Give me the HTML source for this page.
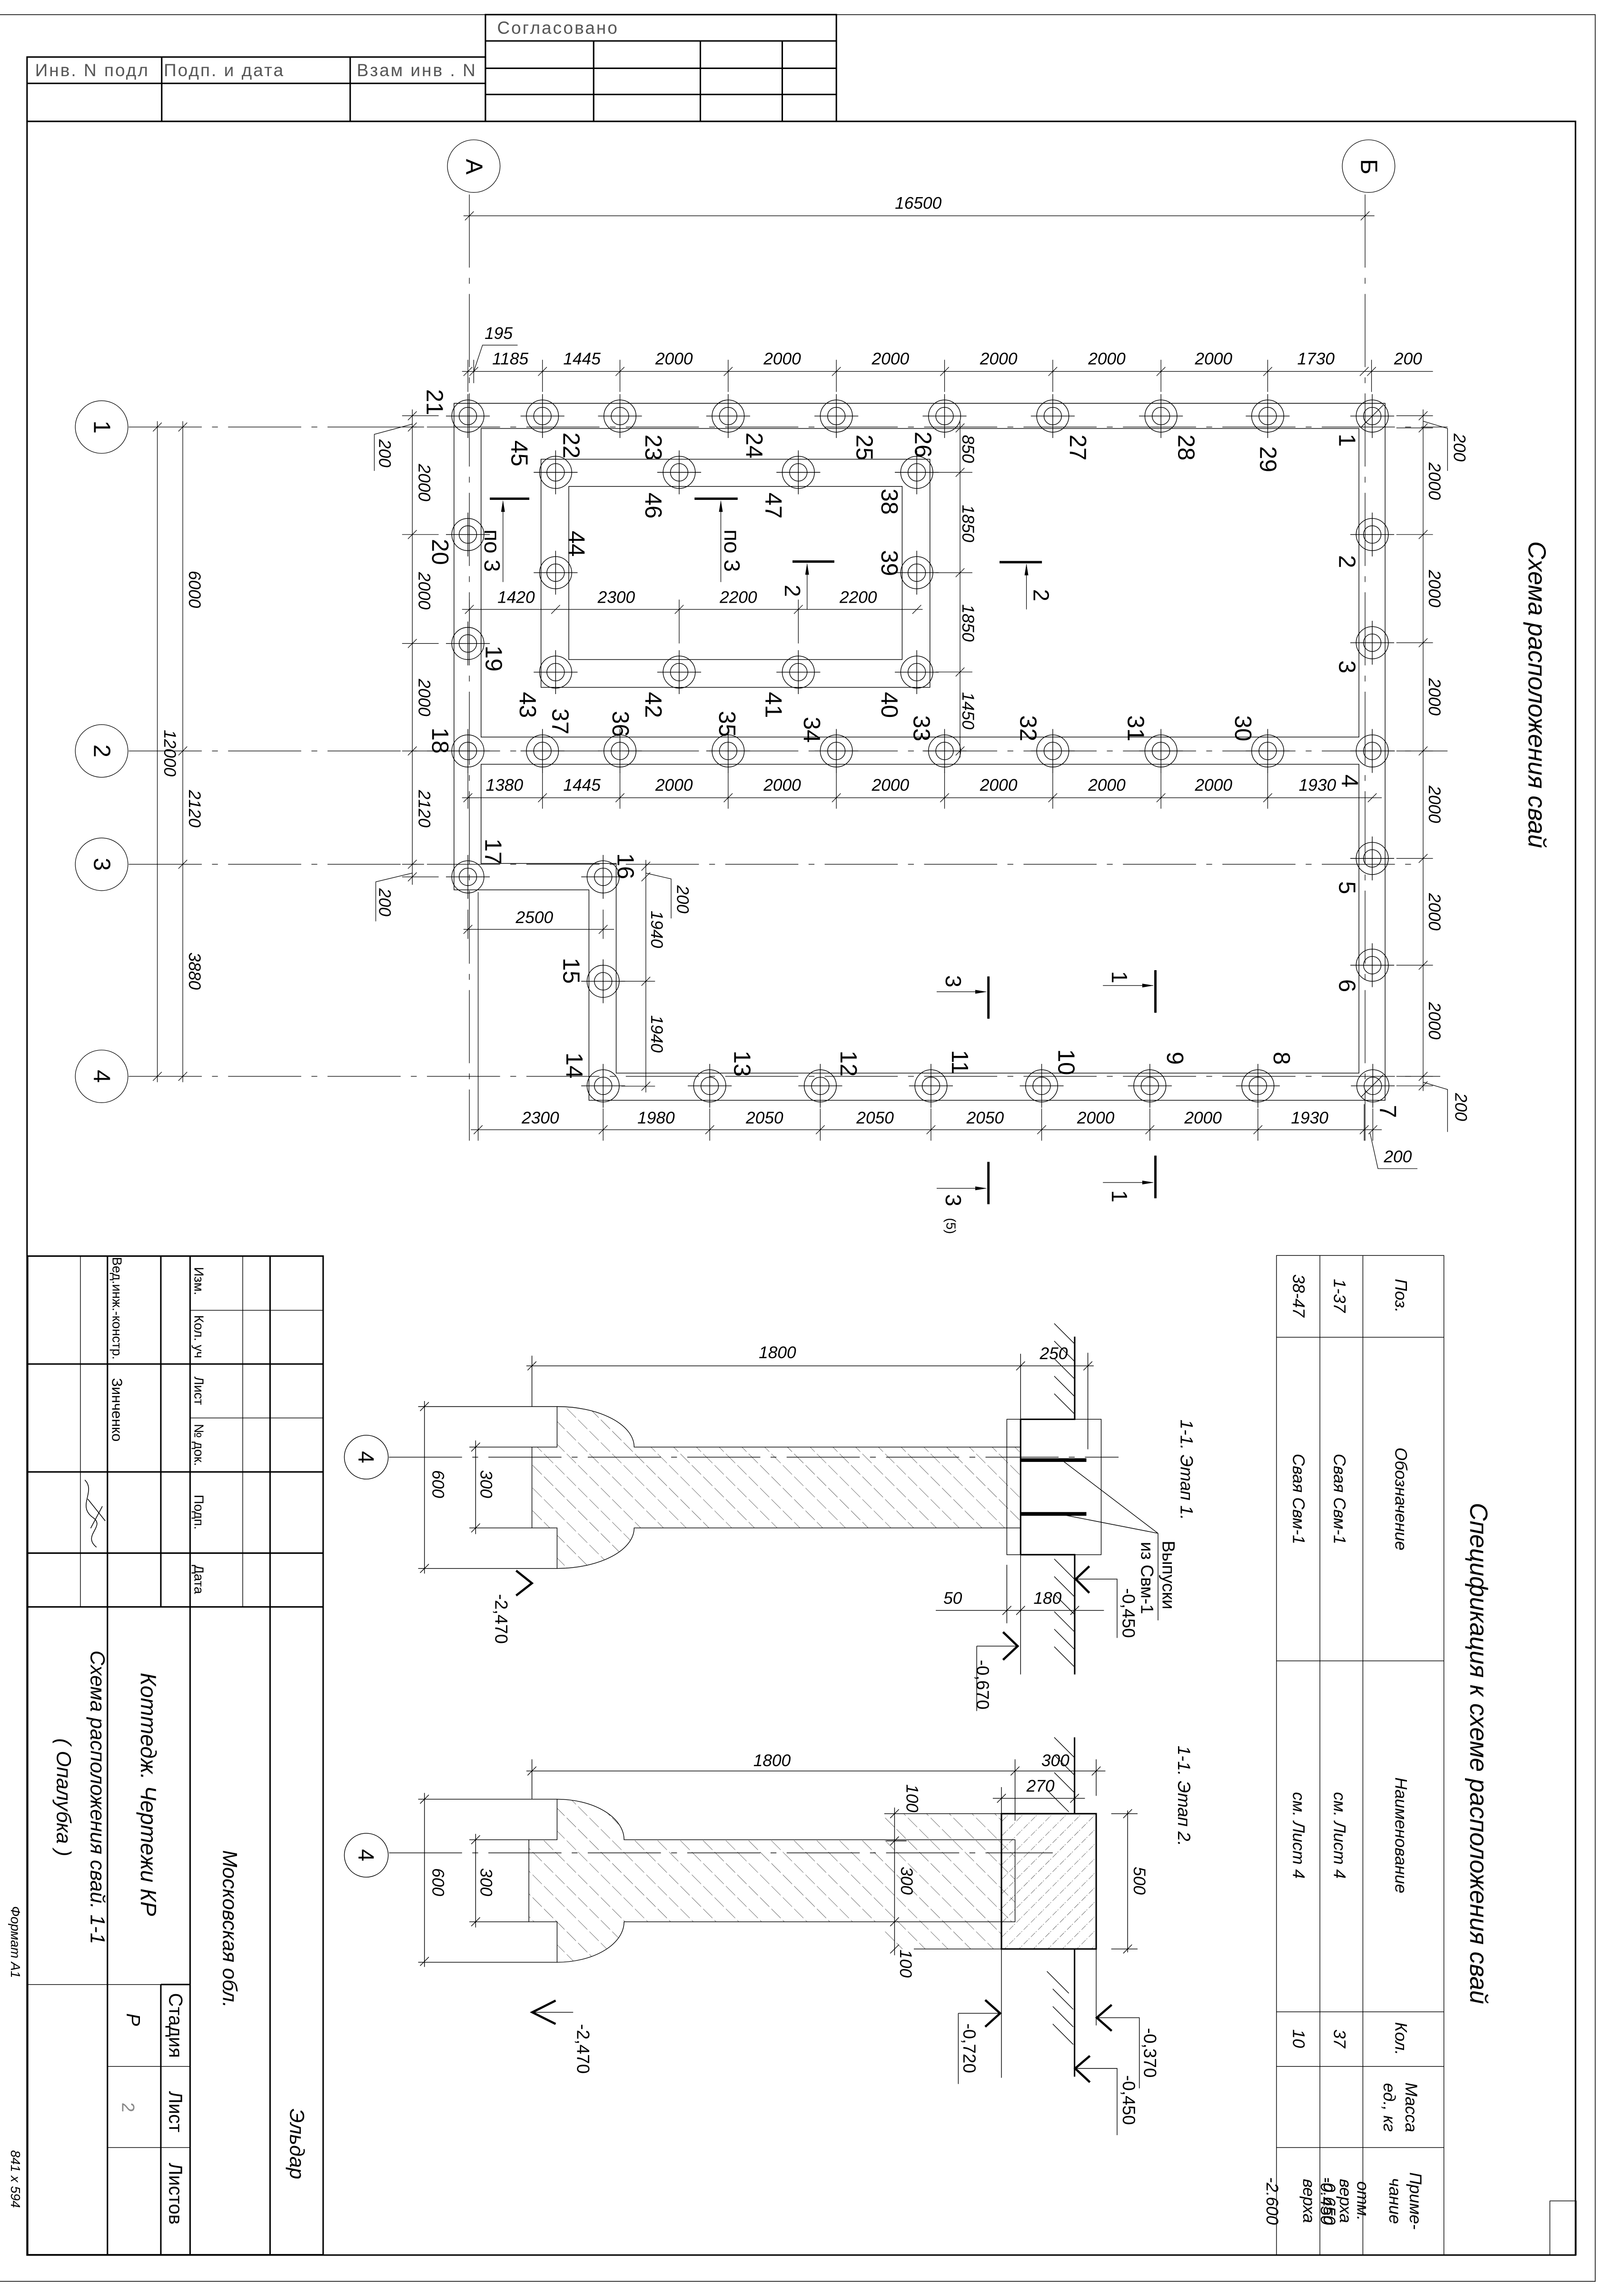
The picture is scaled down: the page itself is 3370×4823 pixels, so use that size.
<!DOCTYPE html>
<html><head><meta charset="utf-8"><style>
html,body{margin:0;padding:0;background:#fff}
svg{display:block}
text{font-family:"Liberation Sans",sans-serif;fill:#000}
.p{font-size:16px;text-anchor:middle;dominant-baseline:central}
.d{font-size:11.5px;font-style:italic;text-anchor:middle;dominant-baseline:central}
.e{font-size:12px;text-anchor:middle;dominant-baseline:central}
.s{font-size:11.5px;font-style:italic;text-anchor:middle;dominant-baseline:central}
.t{font-size:9px;text-anchor:middle;dominant-baseline:central}
.st{font-size:12px;fill:#555;letter-spacing:1px;dominant-baseline:central}
</style></head><body>
<svg xmlns="http://www.w3.org/2000/svg" width="3370" height="4823" viewBox="0 0 1097 1570" preserveAspectRatio="none">
<defs>
<pattern id="h1" patternUnits="userSpaceOnUse" width="11" height="11" patternTransform="rotate(-45)"><line x1="0" y1="0" x2="0" y2="11" stroke="#000" stroke-width="0.35" stroke-dasharray="7 2"/></pattern>
<pattern id="h2" patternUnits="userSpaceOnUse" width="7" height="7" patternTransform="rotate(45)"><line x1="0" y1="0" x2="0" y2="7" stroke="#000" stroke-width="0.35" stroke-dasharray="4 1.5 0.8 1.5"/></pattern>
<g id="pile" fill="none" stroke="#000" stroke-width="0.45"><circle r="11"/><circle r="6"/><line x1="-15" y1="0" x2="15" y2="0"/><line x1="0" y1="-15" x2="0" y2="15"/></g>
</defs>

<!-- frames -->
<g fill="none" stroke="#000">
<path d="M0,10 H1091 V1560 H0" stroke-width="0.5"/>
<rect x="18.5" y="83" width="1059" height="1459" stroke-width="1"/>
<!-- top stamp -->
<rect x="332" y="10" width="240" height="73" stroke-width="1"/>
<line x1="332" y1="28" x2="572" y2="28" stroke-width="1"/>
<line x1="332" y1="46.7" x2="572" y2="46.7" stroke-width="1"/>
<line x1="332" y1="64.6" x2="572" y2="64.6" stroke-width="1"/>
<line x1="406" y1="28" x2="406" y2="83" stroke-width="1"/>
<line x1="479" y1="28" x2="479" y2="83" stroke-width="1"/>
<line x1="535" y1="28" x2="535" y2="83" stroke-width="1"/>
<rect x="18.5" y="39" width="313.5" height="44" stroke-width="1"/>
<line x1="18.5" y1="57" x2="332" y2="57" stroke-width="1"/>
<line x1="110.6" y1="39" x2="110.6" y2="83" stroke-width="1"/>
<line x1="239.5" y1="39" x2="239.5" y2="83" stroke-width="1"/>
</g>
<text class="st" x="340" y="19">Согласовано</text>
<text class="st" x="24" y="48">Инв. N подл</text>
<text class="st" x="112" y="48">Подп. и дата</text>
<text class="st" x="244" y="48">Взам инв . N</text>

<!-- axes -->
<g fill="none" stroke="#000" stroke-width="0.4">
<circle cx="324" cy="113.6" r="18"/><circle cx="936" cy="113.6" r="18"/>
<circle cx="69.5" cy="292" r="18"/><circle cx="69.5" cy="513.5" r="18"/><circle cx="69.5" cy="591" r="18"/><circle cx="69.5" cy="736" r="18"/>
<g stroke-dasharray="50 7 4 7">
<line x1="321" y1="133" x2="321" y2="780"/><line x1="933.6" y1="133" x2="933.6" y2="780"/>
<line x1="88" y1="292" x2="990" y2="292"/><line x1="88" y1="513.5" x2="990" y2="513.5"/>
<line x1="88" y1="591" x2="965" y2="591"/><line x1="88" y1="736" x2="985" y2="736"/>
</g>
</g>
<text x="324" y="114" class="p" transform="rotate(90 324 114)">А</text>
<text x="936" y="114" class="p" transform="rotate(90 936 114)">Б</text>
<text x="69.5" y="292" class="p" transform="rotate(90 69.5 292)">1</text>
<text x="69.5" y="513.5" class="p" transform="rotate(90 69.5 513.5)">2</text>
<text x="69.5" y="591" class="p" transform="rotate(90 69.5 591)">3</text>
<text x="69.5" y="736" class="p" transform="rotate(90 69.5 736)">4</text>

<!-- grillage -->
<g fill="none" stroke="#000" stroke-width="0.45">
<path d="M310.5,275.8 H947.3 V752.4 H402.8 V608.5 H310.5 Z"/>
<path d="M329,293 H929.4 V504 H329 Z"/>
<path d="M329,522.6 H929.4 V733.8 H421.4 V590.4 H329 Z"/>
<rect x="370" y="314" width="266" height="156"/>
<rect x="389" y="332.6" width="228" height="118.4"/>
</g>

<!-- piles -->
<g>
<use href="#pile" x="320" y="284.5"/><use href="#pile" x="371" y="284.5"/><use href="#pile" x="424" y="284.5"/><use href="#pile" x="498" y="284.5"/><use href="#pile" x="572" y="284.5"/><use href="#pile" x="646" y="284.5"/><use href="#pile" x="720" y="284.5"/><use href="#pile" x="794" y="284.5"/><use href="#pile" x="867" y="284.5"/><use href="#pile" x="938.5" y="284.5"/>
<use href="#pile" x="380" y="323"/><use href="#pile" x="464.5" y="323"/><use href="#pile" x="546" y="323"/><use href="#pile" x="627" y="323"/>
<use href="#pile" x="380" y="391.6"/><use href="#pile" x="627" y="391.6"/>
<use href="#pile" x="380" y="459.6"/><use href="#pile" x="464.5" y="459.6"/><use href="#pile" x="546" y="459.6"/><use href="#pile" x="627" y="459.6"/>
<use href="#pile" x="320" y="365.5"/><use href="#pile" x="320" y="440"/>
<use href="#pile" x="938.5" y="365.5"/><use href="#pile" x="938.5" y="439.5"/><use href="#pile" x="938.5" y="587"/><use href="#pile" x="938.5" y="660"/>
<use href="#pile" x="320" y="513.5"/><use href="#pile" x="371" y="513.5"/><use href="#pile" x="424" y="513.5"/><use href="#pile" x="498" y="513.5"/><use href="#pile" x="572" y="513.5"/><use href="#pile" x="646" y="513.5"/><use href="#pile" x="720" y="513.5"/><use href="#pile" x="794" y="513.5"/><use href="#pile" x="867" y="513.5"/><use href="#pile" x="938.5" y="513.5"/>
<use href="#pile" x="320" y="599.6"/><use href="#pile" x="412.5" y="599.6"/><use href="#pile" x="412.5" y="671"/>
<use href="#pile" x="412.5" y="742.5"/><use href="#pile" x="485.4" y="742.5"/><use href="#pile" x="561" y="742.5"/><use href="#pile" x="636.7" y="742.5"/><use href="#pile" x="712.4" y="742.5"/><use href="#pile" x="786.4" y="742.5"/><use href="#pile" x="860.3" y="742.5"/><use href="#pile" x="938.9" y="742.5"/>
<line x1="931" y1="292" x2="946" y2="277" stroke="#000" stroke-width="0.45"/>
<line x1="931" y1="750" x2="946" y2="735" stroke="#000" stroke-width="0.45"/>
</g>

<!-- pile labels -->
<g>
<text class="p" transform="translate(297 275) rotate(90)">21</text>
<text class="p" transform="translate(390.5 304.6) rotate(90)">22</text>
<text class="p" transform="translate(355 310) rotate(90)">45</text>
<text class="p" transform="translate(446.6 306) rotate(90)">23</text>
<text class="p" transform="translate(515.7 304.6) rotate(90)">24</text>
<text class="p" transform="translate(591 306) rotate(90)">25</text>
<text class="p" transform="translate(631 304) rotate(90)">26</text>
<text class="p" transform="translate(737 306) rotate(90)">27</text>
<text class="p" transform="translate(811 306) rotate(90)">28</text>
<text class="p" transform="translate(867 314) rotate(90)">29</text>
<text class="p" transform="translate(921 301) rotate(90)">1</text>
<text class="p" transform="translate(446.6 345.7) rotate(90)">46</text>
<text class="p" transform="translate(528.8 345.7) rotate(90)">47</text>
<text class="p" transform="translate(608 343) rotate(90)">38</text>
<text class="p" transform="translate(300.8 377.4) rotate(90)">20</text>
<text class="p" transform="translate(394 371.8) rotate(90)">44</text>
<text class="p" transform="translate(608 385) rotate(90)">39</text>
<text class="p" transform="translate(337.4 450.3) rotate(90)">19</text>
<text class="p" transform="translate(921 384) rotate(90)">2</text>
<text class="p" transform="translate(921 456) rotate(90)">3</text>
<text class="p" transform="translate(360.6 482) rotate(90)">43</text>
<text class="p" transform="translate(446.6 482) rotate(90)">42</text>
<text class="p" transform="translate(528.8 482) rotate(90)">41</text>
<text class="p" transform="translate(608 482) rotate(90)">40</text>
<text class="p" transform="translate(300.8 506.4) rotate(90)">18</text>
<text class="p" transform="translate(383 493.3) rotate(90)">37</text>
<text class="p" transform="translate(424.1 495) rotate(90)">36</text>
<text class="p" transform="translate(497 495) rotate(90)">35</text>
<text class="p" transform="translate(555 499) rotate(90)">34</text>
<text class="p" transform="translate(630 498) rotate(90)">33</text>
<text class="p" transform="translate(703 498) rotate(90)">32</text>
<text class="p" transform="translate(776.6 498) rotate(90)">31</text>
<text class="p" transform="translate(850 498) rotate(90)">30</text>
<text class="p" transform="translate(923 534) rotate(90)">4</text>
<text class="p" transform="translate(337 582.3) rotate(90)">17</text>
<text class="p" transform="translate(427.6 592.3) rotate(90)">16</text>
<text class="p" transform="translate(390.4 663.8) rotate(90)">15</text>
<text class="p" transform="translate(392.5 728.6) rotate(90)">14</text>
<text class="p" transform="translate(507.3 727.3) rotate(90)">13</text>
<text class="p" transform="translate(580 727.3) rotate(90)">12</text>
<text class="p" transform="translate(656.3 726.3) rotate(90)">11</text>
<text class="p" transform="translate(729 726.3) rotate(90)">10</text>
<text class="p" transform="translate(803.4 723.6) rotate(90)">9</text>
<text class="p" transform="translate(876.3 723.6) rotate(90)">8</text>
<text class="p" transform="translate(949 760) rotate(90)">7</text>
<text class="p" transform="translate(921 607) rotate(90)">5</text>
<text class="p" transform="translate(921 674) rotate(90)">6</text>
</g>

<!-- dimension lines -->
<g fill="none" stroke="#000" stroke-width="0.4">
<!-- 16500 -->
<line x1="317" y1="147.6" x2="940" y2="147.6"/>
<path d="M318,150.6 l6,-6 M930.6,150.6 l6,-6"/>
<!-- top -->
<line x1="316" y1="254" x2="980" y2="254"/>
<path d="M317,257 l6,-6 M321,257 l6,-6 M368,257 l6,-6 M421,257 l6,-6 M495,257 l6,-6 M569,257 l6,-6 M643,257 l6,-6 M717,257 l6,-6 M791,257 l6,-6 M864,257 l6,-6 M930,257 l6,-6 M935,257 l6,-6"/>
<path d="M320,246 V268 M324,246 V262 M371,246 V268 M424,246 V268 M498,246 V268 M572,246 V268 M646,246 V268 M720,246 V268 M794,246 V268 M867,246 V268 M938,246 V268"/>
<path d="M324,254 L330,236 H354"/>
<!-- row 2 -->
<line x1="316" y1="545.5" x2="945" y2="545.5"/>
<path d="M317,548.5 l6,-6 M368,548.5 l6,-6 M421,548.5 l6,-6 M495,548.5 l6,-6 M569,548.5 l6,-6 M643,548.5 l6,-6 M717,548.5 l6,-6 M791,548.5 l6,-6 M864,548.5 l6,-6 M935.5,548.5 l6,-6"/>
<path d="M320,528 V553 M371,528 V553 M424,528 V553 M498,528 V553 M572,528 V553 M646,528 V553 M720,528 V553 M794,528 V553 M867,528 V553"/>
<!-- bottom -->
<line x1="322" y1="772.5" x2="945" y2="772.5"/>
<path d="M324,775.5 l6,-6 M409.5,775.5 l6,-6 M482.4,775.5 l6,-6 M558,775.5 l6,-6 M633.7,775.5 l6,-6 M709.4,775.5 l6,-6 M783.4,775.5 l6,-6 M857.3,775.5 l6,-6 M930,775.5 l6,-6 M935.9,775.5 l6,-6"/>
<path d="M327,610 V780 M412.5,758 V780 M485.4,758 V780 M561,758 V780 M636.7,758 V780 M712.4,758 V780 M786.4,758 V780 M860.3,758 V780 M933,755 V780 M938.9,758 V780"/>
<path d="M937,774.8 L942.4,799.1 H969.4"/>
<!-- inner -->
<line x1="316" y1="416.7" x2="631" y2="416.7"/>
<path d="M318,419.7 l6,-6 M377,419.7 l6,-6 M461.5,419.7 l6,-6 M543,419.7 l6,-6 M624,419.7 l6,-6"/>
<path d="M321,410 V425 M464.5,410 V440 M546,410 V440"/>
<!-- left x=282 -->
<line x1="282" y1="280" x2="282" y2="605"/>
<path d="M279,287.3 l6,-6 M279,295 l6,-6 M279,368.5 l6,-6 M279,443 l6,-6 M279,516.5 l6,-6 M279,594 l6,-6 M279,602.6 l6,-6"/>
<path d="M275,284.3 H300 M275,292 H290 M275,365.5 H300 M275,440 H300 M275,513.5 H300 M275,591 H290 M275,599.6 H300"/>
<path d="M282,290 L256,297 V322 M282,597 L257,603 V630"/>
<!-- x=125, 107.6 -->
<line x1="125" y1="288" x2="125" y2="740"/>
<line x1="107.6" y1="288" x2="107.6" y2="740"/>
<path d="M122,295 l6,-6 M122,516.5 l6,-6 M122,594 l6,-6 M122,739 l6,-6 M104.6,295 l6,-6 M104.6,739 l6,-6"/>
<!-- right x=973.3 -->
<line x1="973.3" y1="280" x2="973.3" y2="746"/>
<path d="M970.3,287.3 l6,-6 M970.3,295.6 l6,-6 M970.3,368.5 l6,-6 M970.3,442.5 l6,-6 M970.3,516.5 l6,-6 M970.3,590 l6,-6 M970.3,663 l6,-6 M970.3,739 l6,-6 M970.3,745.5 l6,-6"/>
<path d="M955,284.3 H980 M955,292.6 H980 M955,365.5 H980 M955,439.5 H980 M955,513.5 H980 M955,587 H980 M955,660 H980 M955,736 H980 M955,742.5 H980"/>
<path d="M973.3,288 L990,293 V322 M973.3,740 L990,745 V774"/>
<!-- x=656.6 -->
<line x1="656.6" y1="288" x2="656.6" y2="518"/>
<path d="M653.6,295.6 l6,-6 M653.6,326 l6,-6 M653.6,394.6 l6,-6 M653.6,462.5 l6,-6 M653.6,516.5 l6,-6"/>
<path d="M640,323 H665 M640,391.6 H665 M640,459.5 H665"/>
<!-- x=441.7 -->
<line x1="441.7" y1="588" x2="441.7" y2="747"/>
<path d="M438.7,595.3 l6,-6 M438.7,602.6 l6,-6 M438.7,674 l6,-6 M438.7,745.7 l6,-6"/>
<path d="M425,671 H448 M425,742.7 H448"/>
<path d="M441.7,597 L459,601 V628"/>
<!-- 2500 -->
<line x1="317" y1="635.5" x2="420" y2="635.5"/>
<path d="M317,638.5 l6,-6 M409.5,638.5 l6,-6 M320,622 V642 M412.5,622 V642"/>
</g>

<!-- dimension texts -->
<g>
<text class="d" x="628" y="139">16500</text>
<text class="d" x="341" y="228">195</text>
<text class="d" x="349" y="245.5">1185</text><text class="d" x="398" y="245.5">1445</text>
<text class="d" x="461" y="245.5">2000</text><text class="d" x="535" y="245.5">2000</text><text class="d" x="609" y="245.5">2000</text><text class="d" x="683" y="245.5">2000</text><text class="d" x="757" y="245.5">2000</text><text class="d" x="830" y="245.5">2000</text>
<text class="d" x="900" y="245.5">1730</text><text class="d" x="963" y="245.5">200</text>
<text class="d" x="345" y="537">1380</text><text class="d" x="398" y="537">1445</text>
<text class="d" x="461" y="537">2000</text><text class="d" x="535" y="537">2000</text><text class="d" x="609" y="537">2000</text><text class="d" x="683" y="537">2000</text><text class="d" x="757" y="537">2000</text><text class="d" x="830" y="537">2000</text>
<text class="d" x="901" y="537">1930</text>
<text class="d" x="369.6" y="764.5">2300</text><text class="d" x="448.7" y="764.5">1980</text><text class="d" x="522.9" y="764.5">2050</text><text class="d" x="598.5" y="764.5">2050</text><text class="d" x="673.8" y="764.5">2050</text><text class="d" x="749.4" y="764.5">2000</text><text class="d" x="822.8" y="764.5">2000</text><text class="d" x="895.7" y="764.5">1930</text>
<text class="d" x="956" y="791">200</text>
<text class="d" x="353" y="408.5">1420</text><text class="d" x="421.5" y="408.5">2300</text><text class="d" x="505" y="408.5">2200</text><text class="d" x="587" y="408.5">2200</text>
<text class="d" x="365.5" y="627.4">2500</text>
<text class="d" transform="translate(290 330) rotate(90)">2000</text>
<text class="d" transform="translate(290 404) rotate(90)">2000</text>
<text class="d" transform="translate(290 477) rotate(90)">2000</text>
<text class="d" transform="translate(290 553) rotate(90)">2120</text>
<text class="d" transform="translate(263 310) rotate(90)">200</text>
<text class="d" transform="translate(263 617) rotate(90)">200</text>
<text class="d" transform="translate(133 403) rotate(90)">6000</text>
<text class="d" transform="translate(133 553) rotate(90)">2120</text>
<text class="d" transform="translate(133 664) rotate(90)">3880</text>
<text class="d" transform="translate(116 515) rotate(90)">12000</text>
<text class="d" transform="translate(981 329) rotate(90)">2000</text>
<text class="d" transform="translate(981 402.5) rotate(90)">2000</text>
<text class="d" transform="translate(981 476.5) rotate(90)">2000</text>
<text class="d" transform="translate(981 550) rotate(90)">2000</text>
<text class="d" transform="translate(981 623.5) rotate(90)">2000</text>
<text class="d" transform="translate(981 698) rotate(90)">2000</text>
<text class="d" transform="translate(998 306) rotate(90)">200</text>
<text class="d" transform="translate(999 757) rotate(90)">200</text>
<text class="d" transform="translate(662 307) rotate(90)">850</text>
<text class="d" transform="translate(662 358) rotate(90)">1850</text>
<text class="d" transform="translate(662 426) rotate(90)">1850</text>
<text class="d" transform="translate(662 486) rotate(90)">1450</text>
<text class="d" transform="translate(449 635.5) rotate(90)">1940</text>
<text class="d" transform="translate(449 707) rotate(90)">1940</text>
<text class="d" transform="translate(466.8 615) rotate(90)">200</text>
</g>

<!-- section markers on plan -->
<g stroke="#000" fill="none">
<path d="M335,341 H362 M475,341 H504.5 M542,384 H570.6 M683.6,384.4 H712.6" stroke-width="1.6"/>
<path d="M676,667.7 V696.6 M676,794.5 V823.4 M790.2,663.4 V692.5 M790.2,790.2 V819.4" stroke-width="1.6"/>
<path d="M344,398 V343 M493,398 V343 M552,416.7 V386 M702,416.7 V386 M640.6,678.2 H674 M640.6,812.6 H674 M754.3,673.9 H788.5 M754.3,808.6 H788.5" stroke-width="0.4"/>
</g>
<g fill="#000">
<path d="M344,342 l-1.3,8 h2.6 Z M493,342 l-1.3,8 h2.6 Z M552,385 l-1.3,8 h2.6 Z M702,385.4 l-1.3,8 h2.6 Z"/>
<path d="M675,678.2 l-8,-1.3 v2.6 Z M675,812.6 l-8,-1.3 v2.6 Z M789.2,673.9 l-8,-1.3 v2.6 Z M789.2,808.6 l-8,-1.3 v2.6 Z"/>
</g>
<text class="p" style="font-size:15px" transform="translate(336.6 376.5) rotate(90)">по 3</text>
<text class="p" style="font-size:15px" transform="translate(500.7 376.5) rotate(90)">по 3</text>
<text class="p" style="font-size:15px" transform="translate(542 404) rotate(90)">2</text>
<text class="p" style="font-size:15px" transform="translate(712 407) rotate(90)">2</text>
<text class="p" style="font-size:15px" transform="translate(652 671) rotate(90)">3</text>
<text class="p" style="font-size:15px" transform="translate(652 820.7) rotate(90)">3</text>
<text class="p" style="font-size:9px" transform="translate(650.4 838.3) rotate(90)">(5)</text>
<text class="p" style="font-size:15px" transform="translate(765.6 668.2) rotate(90)">1</text>
<text class="p" style="font-size:15px" transform="translate(765.6 818) rotate(90)">1</text>

<!-- plan title -->
<text class="p" style="font-size:17px;font-style:italic" transform="translate(1051 475) rotate(90)">Схема расположения свай</text>

<!-- ===== Section 1-1 stage 1 ===== -->
<g fill="none" stroke="#000" stroke-width="0.45">
<path d="M363.8,989.5 H381 V961.8 A52.7,27.7 0 0 1 433.7,989.5 H698 V1044.8 H433.7 A52.7,27.7 0 0 1 381,1072.5 V1044.8 H363.8 Z" fill="url(#h1)"/>
<rect x="688.6" y="970.5" width="64.5" height="92.6"/>
<path d="M698,970.5 V1063.1 M698,970.5 H735 V914 M698,1063.1 H735 V1145" stroke-width="1"/>
<path d="M698,925.7 V970.5 M698,1063.1 V1145"/>
<path d="M698,998.4 H743 M698,1035.2 H743" stroke-width="2.5"/>
<path d="M727,999 L792,1048.5 L728,1036 M792,1048.5 V1108"/>
<line x1="266" y1="996.4" x2="765" y2="996.4" stroke-dasharray="50 7 4 7"/>
<circle cx="250.5" cy="996.4" r="15"/>
<line x1="360" y1="934" x2="748" y2="934"/>
<path d="M360.8,937 l6,-6 M695,937 l6,-6 M741,937 l6,-6 M363.8,927 V961.8 M744,925 V991"/>
<line x1="290.3" y1="958" x2="290.3" y2="1076"/>
<path d="M287.3,964.8 l6,-6 M287.3,1075.5 l6,-6 M286,961.8 H381 M286,1072.5 H381"/>
<line x1="325.3" y1="985" x2="325.3" y2="1049"/>
<path d="M322.3,992.5 l6,-6 M322.3,1047.8 l6,-6 M321,989.5 H363.8 M321,1044.8 H363.8"/>
<path d="M353,1074 L363.8,1082.6 L353,1091" stroke-width="1.5"/>
<path d="M745,1071 L735.7,1079.8 L745,1089.2" stroke-width="1.5"/>
<path d="M735.7,1079.8 H764 V1120"/>
<path d="M686,1116 L696,1125.6 L686,1135" stroke-width="1.5"/>
<path d="M668,1125.6 H696 M668,1125.6 V1170"/>
<line x1="640" y1="1101.2" x2="755" y2="1101.2"/>
<path d="M685.6,1104.2 l6,-6 M695,1104.2 l6,-6 M732,1104.2 l6,-6 M688.6,1070 V1110"/>
<path d="M721,905 L735,919 M721,917 L735,931 M721,929 L735,943 M721,941 L735,955 M721,953 L735,967 M721,1066 L735,1080 M721,1078 L735,1092 M721,1090 L735,1104 M721,1102 L735,1116 M721,1114 L735,1128 M721,1126 L735,1140"/>
</g>
<text class="p" style="font-size:15px" transform="translate(250.5 996.4) rotate(90)">4</text>
<text class="d" x="531.7" y="925">1800</text>
<text class="d" x="720.7" y="925.7">250</text>
<text class="d" transform="translate(299.4 1014.8) rotate(90)">600</text>
<text class="d" transform="translate(332.3 1014.8) rotate(90)">300</text>
<text class="e" transform="translate(342.8 1107) rotate(90)">-2,470</text>
<text class="e" transform="translate(771.8 1103) rotate(90)">-0,450</text>
<text class="e" transform="translate(672 1152) rotate(90)">-0,670</text>
<text class="d" x="651.6" y="1093">50</text>
<text class="d" x="716.4" y="1093">180</text>
<text class="e" transform="translate(799.2 1077) rotate(90)">Выпуски</text>
<text class="e" transform="translate(784.5 1079) rotate(90)">из Свм-1</text>
<text class="s" style="font-size:12px" transform="translate(811.6 1005) rotate(90)">1-1. Этап 1.</text>

<!-- ===== Section 1-1 stage 2 ===== -->
<g fill="none" stroke="#000" stroke-width="0.45">
<rect x="604.8" y="1240.2" width="80.1" height="18.6" fill="url(#h1)" stroke="none"/>
<rect x="604.8" y="1314.1" width="80.1" height="18.6" fill="url(#h1)" stroke="none"/>
<path d="M604.8,1240.2 H684.9 M625,1332.7 H684.9"/>
<rect x="684.9" y="1240.2" width="64.8" height="92.5" fill="url(#h2)" stroke-width="1"/>
<path d="M361.7,1258 H381 V1230.3 A45.8,27.7 0 0 1 426.8,1258 H694.2 V1314.1 H426.8 A45.8,27.7 0 0 1 381,1341.8 V1314.1 H361.7 Z" fill="url(#h1)"/>
<path d="M734.9,1188 V1240.2 M734.9,1332.7 V1420" stroke-width="1"/>
<path d="M749.7,1332.7 V1385 M684.9,1332.7 V1420.8"/>
<line x1="266" y1="1267" x2="720" y2="1267" stroke-dasharray="50 7 4 7"/>
<circle cx="250.5" cy="1268.6" r="15"/>
<line x1="360" y1="1211" x2="756" y2="1211"/>
<path d="M360.8,1214 l6,-6 M691.2,1214 l6,-6 M746.7,1214 l6,-6 M363.8,1203 V1230 M694.2,1203 V1245 M749.7,1203 V1228"/>
<line x1="679" y1="1229.7" x2="742" y2="1229.7"/>
<path d="M681.9,1232.7 l6,-6 M731.9,1232.7 l6,-6 M684.9,1222 V1240"/>
<line x1="611.8" y1="1236" x2="611.8" y2="1337"/>
<path d="M608.8,1243.2 l6,-6 M608.8,1261.8 l6,-6 M608.8,1317.1 l6,-6 M608.8,1335.7 l6,-6 M606,1258.8 H620"/>
<line x1="771.2" y1="1238" x2="771.2" y2="1335"/>
<path d="M768.2,1243.2 l6,-6 M768.2,1335.7 l6,-6 M760,1240.2 H778 M760,1332.7 H778"/>
<line x1="290.3" y1="1226" x2="290.3" y2="1345"/>
<path d="M287.3,1233.3 l6,-6 M287.3,1344.2 l6,-6 M286,1230.3 H381 M286,1341.8 H381"/>
<line x1="325.3" y1="1254" x2="325.3" y2="1318"/>
<path d="M322.3,1261 l6,-6 M322.3,1317.1 l6,-6 M321,1258 H361.7 M321,1314.1 H361.7"/>
<path d="M380,1368 L364,1376 L380,1384" stroke-width="1.5"/>
<path d="M364,1376 H392"/>
<path d="M673.8,1367.6 L684,1376.7 L673.8,1385.9" stroke-width="1.5"/>
<path d="M655.4,1376.7 H684 M655.4,1376.7 V1425"/>
<path d="M760.3,1370.9 L750.1,1379.7 L760.3,1388.7" stroke-width="1.5"/>
<path d="M750.1,1379.7 H779.2 V1428"/>
<path d="M745.4,1405.8 L735.3,1414.4 L745.4,1423.8" stroke-width="1.5"/>
<path d="M735.3,1414.4 H764 V1460"/>
<path d="M721,1188 L735,1202 M721,1200 L735,1214 M721,1212 L735,1226 M716,1224 L731,1239 M716,1348 L731,1363 M720,1360 L734,1374 M720,1372 L734,1386 M720,1384 L734,1398"/>
</g>
<text class="p" style="font-size:15px" transform="translate(250.5 1268.6) rotate(90)">4</text>
<text class="d" x="528" y="1204">1800</text>
<text class="d" x="721.8" y="1204">300</text>
<text class="d" x="711.6" y="1221.4">270</text>
<text class="d" transform="translate(623.7 1229.7) rotate(90)">100</text>
<text class="d" transform="translate(620 1286) rotate(90)">300</text>
<text class="d" transform="translate(619.3 1342.7) rotate(90)">100</text>
<text class="d" transform="translate(779.2 1286) rotate(90)">500</text>
<text class="d" transform="translate(299.4 1287) rotate(90)">600</text>
<text class="d" transform="translate(332.3 1287) rotate(90)">300</text>
<text class="e" transform="translate(398.8 1401) rotate(90)">-2,470</text>
<text class="e" transform="translate(663 1400.6) rotate(90)">-0,720</text>
<text class="e" transform="translate(786.5 1403.7) rotate(90)">-0,370</text>
<text class="e" transform="translate(772 1436) rotate(90)">-0,450</text>
<text class="s" style="font-size:12px" transform="translate(809.7 1228) rotate(90)">1-1. Этап 2.</text>

<!-- ===== Specification table ===== -->
<g fill="none" stroke="#000" stroke-width="0.45">
<rect x="873" y="858.5" width="114.5" height="683.3"/>
<line x1="902.7" y1="858.5" x2="902.7" y2="1541.8"/>
<line x1="932.1" y1="858.5" x2="932.1" y2="1541.8"/>
<path d="M873,914.4 H987.5 M873,1135.7 H987.5 M873,1375.7 H987.5 M873,1413 H987.5 M873,1468.5 H987.5"/>
<rect x="1060" y="1505" width="18" height="37"/>
</g>
<text class="p" style="font-size:17px;font-style:italic" transform="translate(1011 1199) rotate(90)">Спецификация к схеме расположения свай</text>
<g>
<text class="s" transform="translate(958 886) rotate(90)">Поз.</text>
<text class="s" transform="translate(958 1025) rotate(90)">Обозначение</text>
<text class="s" transform="translate(958 1255) rotate(90)">Наименование</text>
<text class="s" transform="translate(958 1394) rotate(90)">Кол.</text>
<text class="s" transform="translate(965 1441) rotate(90)">Масса</text>
<text class="s" transform="translate(950 1441) rotate(90)">ед., кг</text>
<text class="s" transform="translate(968 1505) rotate(90)">Приме-</text>
<text class="s" transform="translate(954 1505) rotate(90)">чание</text>
<text class="s" transform="translate(916 886) rotate(90)">1-37</text>
<text class="s" transform="translate(916 1025) rotate(90)">Свая Свм-1</text>
<text class="s" transform="translate(916 1255) rotate(90)">см. Лист 4</text>
<text class="s" transform="translate(916 1394) rotate(90)">37</text>
<text class="s" transform="translate(888 886) rotate(90)">38-47</text>
<text class="s" transform="translate(888 1025) rotate(90)">Свая Свм-1</text>
<text class="s" transform="translate(888 1255) rotate(90)">см. Лист 4</text>
<text class="s" transform="translate(888 1394) rotate(90)">10</text>
<text class="s" transform="translate(932 1505) rotate(90)">отм.</text>
<text class="s" transform="translate(920 1505) rotate(90)">верха</text>
<text class="s" transform="translate(909 1505) rotate(90)">-0.650</text>
<text class="s" transform="translate(907 1505) rotate(90)">-0.450</text>
<text class="s" transform="translate(895 1505) rotate(90)">верха</text>
<text class="s" transform="translate(870 1505) rotate(90)">-2.600</text>
</g>

<!-- ===== Title block ===== -->
<g fill="none" stroke="#000">
<rect x="18.9" y="858.9" width="202.1" height="682.9" stroke-width="1"/>
<line x1="55" y1="858.9" x2="55" y2="1098.8" stroke-width="0.45"/>
<line x1="73.5" y1="858.9" x2="73.5" y2="1541.8" stroke-width="1"/>
<line x1="110" y1="858.9" x2="110" y2="1098.8" stroke-width="1"/>
<line x1="110" y1="1357" x2="110" y2="1541.8" stroke-width="1"/>
<line x1="130" y1="858.9" x2="130" y2="1541.8" stroke-width="1"/>
<line x1="166" y1="858.9" x2="166" y2="1098.8" stroke-width="0.45"/>
<line x1="184.7" y1="858.9" x2="184.7" y2="1541.8" stroke-width="1"/>
<path d="M130,896 H221 M130,969.6 H221" stroke-width="0.45"/>
<path d="M18.9,932.7 H221 M18.9,1006.5 H221 M18.9,1062 H221 M18.9,1098.8 H221" stroke-width="1"/>
<path d="M73.5,932.7 V932.7" stroke-width="0.45"/>
<path d="M18.9,1357 H130 M73.5,1413 H130 M73.5,1468.5 H130" stroke-width="0.45"/>
<path d="M110,1357 H130" stroke-width="1"/>
</g>
<g>
<text class="t" transform="translate(136 876) rotate(90)">Изм.</text>
<text class="t" transform="translate(136 914) rotate(90)">Кол. уч</text>
<text class="t" transform="translate(136 951) rotate(90)">Лист</text>
<text class="t" transform="translate(136 988) rotate(90)">№ док.</text>
<text class="t" transform="translate(136 1034) rotate(90)">Подп.</text>
<text class="t" transform="translate(136 1080) rotate(90)">Дата</text>
<text class="t" transform="translate(80 894.6) rotate(90)">Вед.инж.-констр.</text>
<text class="t" style="font-size:10px" transform="translate(80 964) rotate(90)">Зинченко</text>
<text class="p" style="font-size:14px;font-style:italic" transform="translate(157 1319) rotate(90)">Московская обл.</text>
<text class="p" style="font-size:14px;font-style:italic" transform="translate(203 1466) rotate(90)">Эльдар</text>
<text class="p" style="font-size:15px;font-style:italic" transform="translate(101.5 1227) rotate(90)">Коттедж. Чертежи КР</text>
<text class="p" style="font-size:14px;font-style:italic" transform="translate(66.5 1229) rotate(90)">Схема расположения свай. 1-1</text>
<text class="p" style="font-size:14px;font-style:italic" transform="translate(43.4 1229) rotate(90)">( Опалубка )</text>
<text class="p" style="font-size:13px" transform="translate(120 1385) rotate(90)">Стадия</text>
<text class="p" style="font-size:13px" transform="translate(120 1444) rotate(90)">Лист</text>
<text class="p" style="font-size:13px" transform="translate(120 1500) rotate(90)">Листов</text>
<text class="p" style="font-size:13px;font-style:italic" transform="translate(91 1381) rotate(90)">P</text>
<text class="p" style="font-size:12px;fill:#888" transform="translate(87.5 1441) rotate(90)">2</text>
<text class="t" style="font-style:italic" transform="translate(10.5 1328) rotate(90)">Формат А1</text>
<text class="t" style="font-style:italic" transform="translate(10.5 1490) rotate(90)">841 x 594</text>
</g>
<path d="M58,1012 C66,1020 52,1030 64,1038 C72,1044 56,1050 66,1058 M60,1025 L72,1040 M62,1045 L70,1030" fill="none" stroke="#000" stroke-width="0.5"/>
</svg>
</body></html>
